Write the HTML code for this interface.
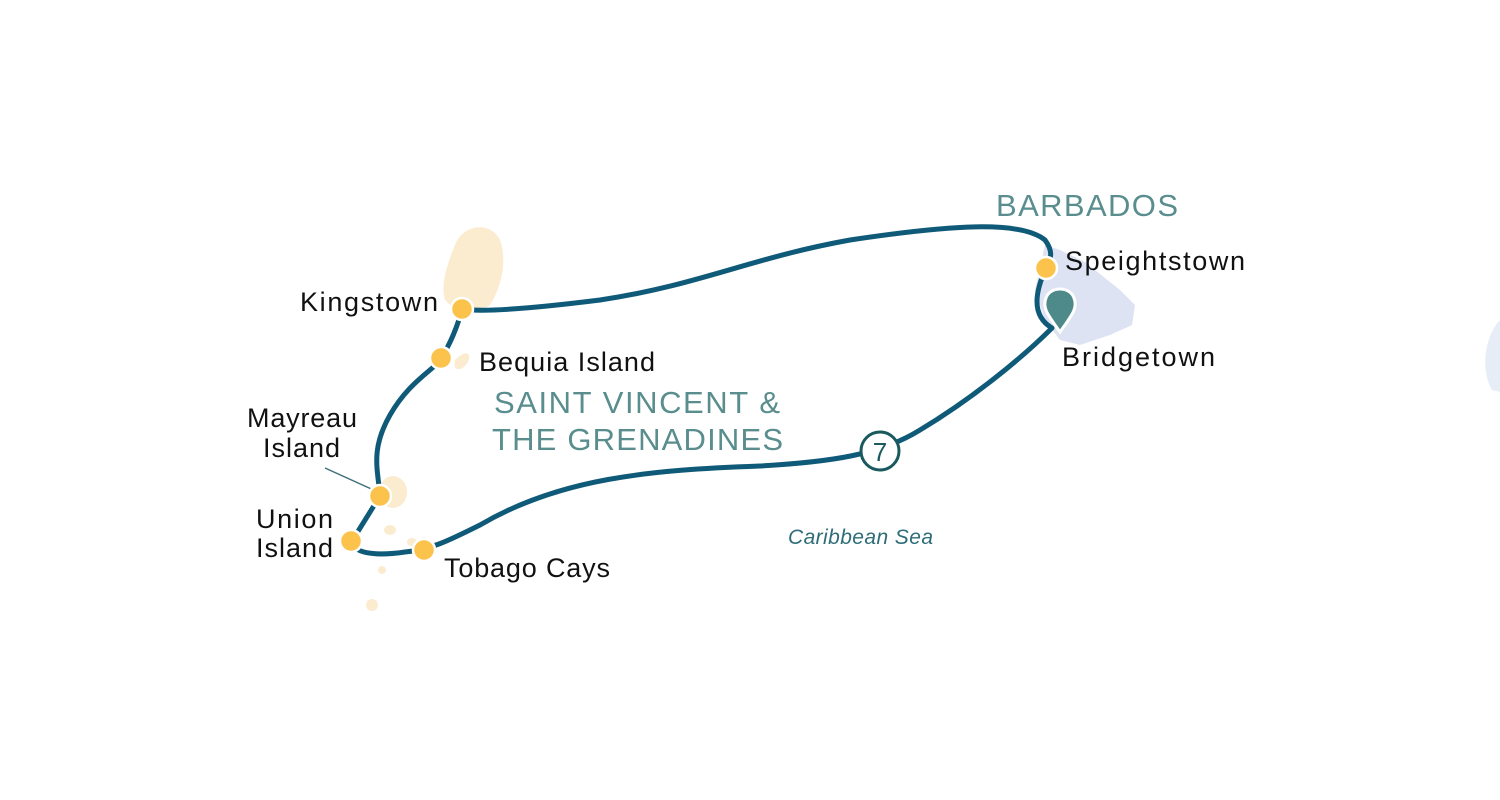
<!DOCTYPE html>
<html><head><style>body{margin:0;background:#fff}svg{display:block}</style></head><body>
<svg width="1500" height="800" viewBox="0 0 1500 800" xmlns="http://www.w3.org/2000/svg" font-family="Liberation Sans, sans-serif">
<rect width="1500" height="800" fill="#fff"/>
<!-- islands -->
<path d="M455,245 C462,225 490,220 500,240 C508,262 500,290 490,305 C478,315 455,312 445,300 C440,285 448,262 455,245Z" fill="#fbecd0"/>
<path d="M455,360 C465,350 472,352 468,362 C462,372 452,372 455,360Z" fill="#fbecd0"/>
<ellipse cx="393" cy="492" rx="14" ry="16" fill="#fbecd0"/>
<ellipse cx="390" cy="530" rx="6" ry="5" fill="#fbecd0"/>
<ellipse cx="412" cy="542" rx="5" ry="4" fill="#fbecd0"/>
<ellipse cx="382" cy="570" rx="4" ry="4" fill="#fbecd0"/>
<ellipse cx="372" cy="605" rx="6" ry="6" fill="#fbecd0"/>
<path d="M1045,245 L1060,250 L1085,262 L1120,290 L1135,305 L1132,325 L1110,335 L1080,345 L1060,340 L1045,320 L1035,290 Z" fill="#dde3f3"/>
<path d="M1500,320 C1485,335 1480,370 1492,390 L1500,392Z" fill="#e6edf6"/>
<!-- route -->
<path d="M1052,328 C1020,360 970,400 920,430 C880,455 830,462 760,466 C650,470 560,478 480,525 C450,540 430,550 405,552 C385,555 365,555 355,548 L352,541 L380,496 C378,470 370,450 390,415 C410,380 435,370 441,358 C450,345 458,325 462,309 C480,312 520,310 600,300 C700,285 750,258 850,240 C950,225 1020,220 1045,240 C1056,255 1048,262 1046,268 C1036,290 1030,315 1052,328" fill="none" stroke="#0f5a78" stroke-width="5" stroke-linecap="round"/>
<line x1="378" y1="492" x2="325" y2="468" stroke="#3d6e78" stroke-width="1.5"/>
<!-- pin -->
<path d="M1060,332 C1048,315 1042,308 1046,298 C1050,286 1070,286 1074,298 C1078,308 1072,315 1060,332Z" fill="#4e8a8a" stroke="#fff" stroke-width="3"/>
<!-- dots -->
<g fill="#fbc34b" stroke="#fff" stroke-width="2.5">
<circle cx="462" cy="309" r="11"/>
<circle cx="441" cy="358" r="11"/>
<circle cx="380" cy="496" r="11"/>
<circle cx="351" cy="541" r="11"/>
<circle cx="424" cy="550" r="11"/>
<circle cx="1046" cy="268" r="11"/>
</g>
<circle cx="880" cy="451" r="19" fill="#fff" stroke="#1a5a5e" stroke-width="3"/>
<text x="880" y="461" font-size="26" fill="#1a5a5e" text-anchor="middle">7</text>
<!-- labels -->
<g font-size="27" fill="#111" lengthAdjust="spacingAndGlyphs">
<text x="300" y="311" textLength="138">Kingstown</text>
<text x="479" y="371" textLength="176">Bequia Island</text>
<text x="247" y="427" textLength="110">Mayreau</text>
<text x="263" y="457" textLength="77">Island</text>
<text x="256" y="528" textLength="77">Union</text>
<text x="256" y="557" textLength="77">Island</text>
<text x="444" y="577" textLength="166">Tobago Cays</text>
<text x="1065" y="270" textLength="180">Speightstown</text>
<text x="1062" y="366" textLength="153">Bridgetown</text>
</g>
<g font-size="31" fill="#5a8d8d">
<text x="996" y="216" textLength="182">BARBADOS</text>
<text x="494" y="413" textLength="286">SAINT VINCENT &amp;</text>
<text x="492" y="450" textLength="291">THE GRENADINES</text>
</g>
<text x="788" y="544" font-size="21" font-style="italic" fill="#2e6d78" textLength="145">Caribbean Sea</text>
</svg>
</body></html>
